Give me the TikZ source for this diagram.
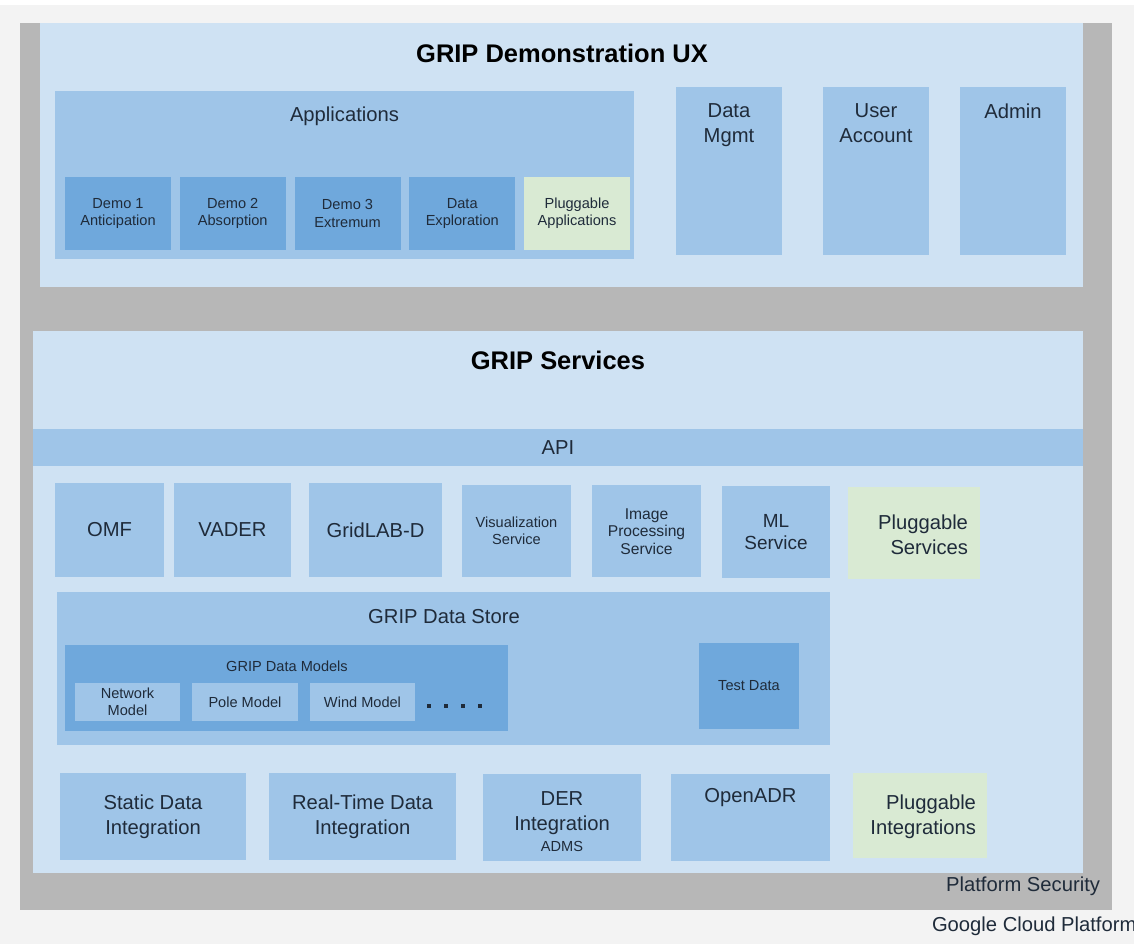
\documentclass[tikz,border=0pt]{standalone}
\usepackage{fontspec}
\setmainfont{Liberation Sans}
\usetikzlibrary{positioning}
\definecolor{pagebg}{HTML}{F3F3F3}
\definecolor{framegray}{HTML}{B7B7B7}
\definecolor{paneblue}{HTML}{CFE2F3}
\definecolor{midblue}{HTML}{9FC5E8}
\definecolor{deepblue}{HTML}{6FA8DC}
\definecolor{plugreen}{HTML}{D9EAD3}
\definecolor{ink}{HTML}{1F2B3A}
\begin{document}
\begin{tikzpicture}[x=0.2mm, y=-0.2mm,
    sz/.style 2 args={minimum width=#1*0.2mm, minimum height=#2*0.2mm},
    block/.style={inner sep=0pt, outer sep=0pt, align=center, text=ink},
    pane/.style={block, fill=paneblue},
    mid/.style={block, fill=midblue},
    deep/.style={block, fill=deepblue},
    plug/.style={block, fill=plugreen},
    big/.style={font=\fontsize{11.5}{14.2}\selectfont},
    small/.style={font=\fontsize{8.3}{9.8}\selectfont},
    head/.style={font=\bfseries\fontsize{14.5}{17}\selectfont, text=black},
    dot/.style={fill=ink, inner sep=0pt, minimum size=0.9mm}]
  \useasboundingbox (0,0) rectangle (1134,944);
  \fill[pagebg] (0,0) rectangle (1134,944);
  \fill[white] (0,0) rectangle (1134,5);

  % platform security frame and the two panes
  \node[block, fill=framegray, sz={1092}{887}] (security) at (566,466.5) {};
  \node[pane, sz={1043}{264}] (ux) at (561.5,155) {};
  \node[pane, sz={1050}{542}] (services) at (558,602) {};
  \node[block, big, anchor=east] (securitylabel) at (1100,886) {Platform Security};
  \node[block, big, anchor=west] (cloud) at (932,926) {Google Cloud Platform};

  % demonstration UX
  \node[head] (uxtitle) at (562,53) {GRIP Demonstration UX};
  \node[mid, sz={579}{168}] (apps) at (344.5,175) {};
  \node[block, big] (appstitle) at (344.5,116) {Applications};
  \foreach \name/\txt [count=\i from 0] in {demo1/{Demo 1\\Anticipation},
      demo2/{Demo 2\\Absorption}, demo3/{Demo 3\\Extremum},
      explore/{Data\\Exploration}}
    \node[deep, small, sz={106}{73}] (\name) at (118+114.75*\i,213.5) {\txt};
  \node[plug, small, sz={106}{73}] (plugapps) at (577,213.5) {Pluggable\\Applications};

  \foreach \name/\txt/\x in {mgmt/{Data\\Mgmt}/729, account/{User\\Account}/876,
      admin/{Admin}/1013}{
    \node[mid, sz={106}{168}] (\name) at (\x,171) {};
    \node[block, big, anchor=north] at ([yshift=-3.4mm]\name.north) {\txt};
  }

  % services
  \node[head] (servtitle) at (558,360) {GRIP Services};
  \node[mid, big, sz={1050}{37}] (api) at (558,447.5) {API};

  \node[mid, big, sz={109}{94}] (omf) at (109.5,530) {OMF};
  \node[mid, big, sz={117}{94}] (vader) at (232.5,530) {VADER};
  \node[mid, big, sz={133}{94}] (gridlab) at (375.5,530) {GridLAB-D};
  \node[mid, small, sz={109}{92}] (vis) at (516.5,531) {Visualization\\Service};
  \node[mid, font=\fontsize{8.9}{10}\selectfont, sz={109}{92}] (imgproc) at (646.5,531.5) {Image\\Processing\\Service};
  \node[mid, font=\fontsize{10.8}{13}\selectfont, sz={108}{92}] (ml) at (776,532) {ML\\Service};
  \node[plug, sz={132}{92}] (plugserv) at (914,533) {};
  \node[block, big, align=right, anchor=east] at (968,535) {Pluggable\\Services};

  % data store
  \node[mid, sz={773}{153}] (store) at (443.5,668.5) {};
  \node[block, big] (storetitle) at (444,617) {GRIP Data Store};
  \node[deep, sz={443}{86}] (models) at (286.5,688) {};
  \node[block, small] (modelstitle) at (287,666) {GRIP Data Models};
  \node[mid, small, sz={105}{38}] (network) at (127.5,702) {Network\\Model};
  \node[mid, small, sz={106}{38}] (pole) at (245,702) {Pole Model};
  \node[mid, small, sz={105}{38}] (wind) at (362.5,702) {Wind Model};
  \foreach \x in {429,446,463,480}
    \node[dot] at (\x,706) {};
  \node[deep, small, sz={100}{86}] (test) at (749,686) {Test Data};

  % integrations
  \node[mid, big, sz={186}{87}] (static) at (153,816.5) {Static Data\\Integration};
  \node[mid, big, sz={187}{87}] (realtime) at (362.5,816.5) {Real-Time Data\\Integration};
  \node[mid, sz={158}{87}] (der) at (562,817.5) {};
  \node[block, big] at (562,813) {DER\\Integration};
  \node[block, small] at (562,846) {ADMS};
  \node[mid, sz={159}{87}] (openadr) at (750.5,817.5) {};
  \node[block, big] at (750.5,798) {OpenADR};
  \node[plug, sz={134}{85}] (plugint) at (920,815.5) {};
  \node[block, big, align=right, anchor=east] at (976,817) {Pluggable\\Integrations};
\end{tikzpicture}
\end{document}
